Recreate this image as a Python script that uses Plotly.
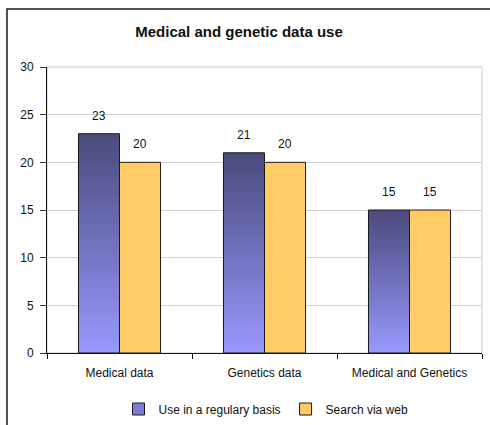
import plotly.graph_objects as go

# Survey results
categories = ["Medical data", "Genetics data", "Medical and Genetics"]
regular_use = [23, 21, 15]
web_search = [20, 20, 15]
series_names = ["Use in a regulary basis", "Search via web"]
y_ticks = [0, 5, 10, 15, 20, 25, 30]

FONT = "Liberation Sans, Arial, sans-serif"
TOP_BLUE = (75, 75, 126)
BOTTOM_BLUE = (153, 153, 255)
YELLOW = "#ffcc66"
EDGE = "#1a1a1a"
BARGAP = 0.434
N_STEPS = 60


def blend(frac):
    # frac = 1 at the top of a bar, 0 at its base
    r, g, b = (round(BOTTOM_BLUE[i] + (TOP_BLUE[i] - BOTTOM_BLUE[i]) * frac) for i in range(3))
    return f"rgb({r},{g},{b})"


fig = go.Figure()

# Vertical gradient on the first series: overlapping bars, each shorter and lighter
for k in range(N_STEPS):
    frac = (N_STEPS - k) / N_STEPS
    fig.add_trace(go.Bar(
        x=categories, y=[v * frac for v in regular_use],
        offsetgroup="use", marker=dict(color=blend(frac), line=dict(width=0)),
        showlegend=False, hoverinfo="skip",
    ))

# Outline of the gradient bars
fig.add_trace(go.Bar(
    x=categories, y=regular_use, offsetgroup="use",
    marker=dict(color="rgba(0,0,0,0)", line=dict(color=EDGE, width=1)),
    showlegend=False,
))
# Legend entry for the first series
fig.add_trace(go.Bar(
    x=categories, y=[None] * len(categories), offsetgroup="use", name=series_names[0],
    marker=dict(color="rgb(125,125,215)", line=dict(color=EDGE, width=1)),
))

fig.add_trace(go.Bar(
    x=categories, y=web_search, offsetgroup="web", name=series_names[1],
    marker=dict(color=YELLOW, line=dict(color=EDGE, width=1)),
))

# Value labels above each bar
quarter = (1 - BARGAP) / 4
for i, (a, b) in enumerate(zip(regular_use, web_search)):
    for dx, v in ((-quarter, a), (quarter, b)):
        fig.add_annotation(x=i + dx, y=v, text=str(v), showarrow=False,
                           yanchor="bottom", yshift=9,
                           font=dict(family=FONT, size=12, color="#111"))

shapes = [
    # plot area border
    dict(type="rect", xref="paper", yref="paper", x0=0, x1=1, y0=0, y1=1,
         line=dict(color="#c8c8c8", width=1), layer="below"),
    # chart frame
    dict(type="rect", xref="paper", yref="paper", x0=-0.092, x1=1.2, y0=-0.5, y1=1.203,
         line=dict(color="#1a1a1a", width=1.5), layer="below"),
]

fig.update_layout(
    width=490, height=425,
    margin=dict(l=47, r=8, t=67, b=72),
    paper_bgcolor="white", plot_bgcolor="white",
    barmode="group", bargap=BARGAP, bargroupgap=0,
    font=dict(family=FONT, size=12, color="#111"),
    title=dict(text="<b>Medical and genetic data use</b>", x=239 / 490, xanchor="center",
               y=1 - 32 / 425, yanchor="middle", font=dict(family=FONT, size=15, color="#111")),
    legend=dict(orientation="h", x=266 / 490, xanchor="center", xref="container",
                y=1 - 409 / 425, yref="container", yanchor="middle",
                font=dict(family=FONT, size=12, color="#111"),
                itemwidth=30, traceorder="normal"),
    shapes=shapes,
    showlegend=True,
)
fig.update_xaxes(
    type="category", showline=True, linecolor="#111", linewidth=1,
    ticks="outside", tickson="boundaries", ticklen=5, tickcolor="#111",
    ticklabelstandoff=9,
    showgrid=False, tickfont=dict(family=FONT, size=12, color="#111"),
)
fig.update_yaxes(
    range=[0, 30], tickvals=y_ticks, showline=True, linecolor="#111", linewidth=1,
    ticks="outside", ticklen=6, tickcolor="#333", ticklabelstandoff=4,
    showgrid=True, gridcolor="#d0d0d0", gridwidth=1, zeroline=False,
    tickfont=dict(family=FONT, size=12, color="#111"),
)

fig.write_html("out.html")
